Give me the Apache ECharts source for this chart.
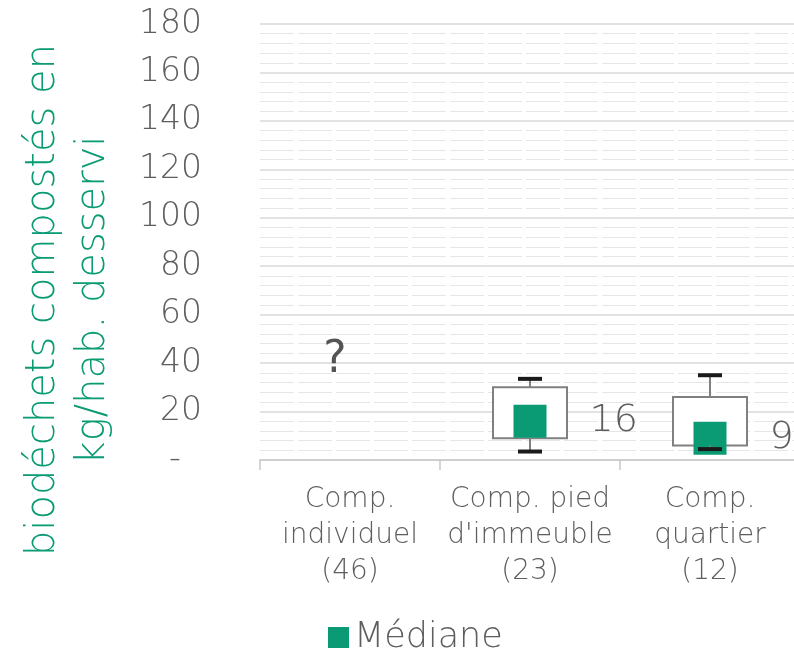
<!DOCTYPE html>
<html>
<head>
<meta charset="utf-8">
<script src="https://cdn.jsdelivr.net/npm/echarts@6/dist/echarts.min.js"></script>
<style>
  html, body { margin: 0; padding: 0; background: #fff; }
  #chart { width: 794px; height: 662px; }
</style>
</head>
<body>
<div id="chart"></div>
<script>
// categories and values
var categories = ['Comp.\nindividuel\n(46)', 'Comp. pied\nd\'immeuble\n(23)', 'Comp.\nquartier\n(12)'];
var whiskerLow = [null, 3.5, 4.5];
var q1 = [null, 9, 6];
var medians = [null, 16, 9];
var q3 = [null, 30, 26];
var whiskerHigh = [null, 33.5, 35];
var unknownMark = [41, null, null];   // "?" shown for Comp. individuel

var FONT = '"DejaVu Sans", sans-serif';
var GREEN = '#0b9b74';
var GREY_TXT = '#5e5e5e';

var myChart = echarts.init(document.getElementById('chart'));

var boxData = [], whiskerData = [], medianData = [], markData = [];
for (var i = 0; i < categories.length; i++) {
    if (q1[i] != null) {
        boxData.push([i, q1[i], q3[i]]);
        whiskerData.push([i, whiskerLow[i], q1[i], q3[i], whiskerHigh[i]]);
        medianData.push([i, medians[i]]);
    }
    if (unknownMark[i] != null) markData.push([i, unknownMark[i]]);
}

function renderBox(params, api) {
    var top = api.coord([api.value(0), api.value(2)]);
    var bot = api.coord([api.value(0), api.value(1)]);
    var w = 74;
    return {
        type: 'rect',
        shape: { x: top[0] - w / 2, y: top[1], width: w, height: bot[1] - top[1] },
        style: { fill: '#fff', stroke: '#808080', lineWidth: 2 }
    };
}

function renderWhisker(params, api) {
    var x = api.value(0);
    var lo = api.coord([x, api.value(1)]);
    var b1 = api.coord([x, api.value(2)]);
    var b3 = api.coord([x, api.value(3)]);
    var hi = api.coord([x, api.value(4)]);
    var cw = 24;
    var lineStyle = { stroke: '#808080', lineWidth: 2 };
    var capStyle = { stroke: '#1a1a1a', lineWidth: 4 };
    return {
        type: 'group',
        children: [
            { type: 'line', shape: { x1: hi[0], y1: hi[1], x2: b3[0], y2: b3[1] }, style: lineStyle },
            { type: 'line', shape: { x1: lo[0], y1: lo[1], x2: b1[0], y2: b1[1] }, style: lineStyle },
            { type: 'line', shape: { x1: hi[0] - cw / 2, y1: hi[1], x2: hi[0] + cw / 2, y2: hi[1] }, style: capStyle },
            { type: 'line', shape: { x1: lo[0] - cw / 2, y1: lo[1], x2: lo[0] + cw / 2, y2: lo[1] }, style: capStyle }
        ]
    };
}

var option = {
    animation: false,
    textStyle: { fontFamily: FONT },
    grid: { left: 260, right: -6, top: 24, bottom: 202, containLabel: false, outerBoundsMode: 'none' },
    legend: {
        bottom: 2,
        left: 323,
        data: ['Médiane'],
        icon: 'rect',
        itemWidth: 21,
        itemHeight: 21,
        itemGap: 6,
        textStyle: { fontSize: 35, color: GREY_TXT, fontFamily: FONT, fontWeight: 300 }
    },
    xAxis: {
        type: 'category',
        data: categories,
        axisLine: { show: true, lineStyle: { color: '#c8c8c8', width: 1.5 } },
        axisTick: { show: true, length: 10, lineStyle: { color: '#c8c8c8', width: 1.5 } },
        axisLabel: {
            interval: 0,
            margin: 22,
            fontSize: 28,
            lineHeight: 36,
            color: GREY_TXT,
            fontWeight: 300,
            fontFamily: FONT
        },
        splitLine: { show: false }
    },
    yAxis: {
        type: 'value',
        min: 0,
        max: 180,
        interval: 20,
        name: 'biodéchets compostés en\nkg/hab. desservi',
        nameLocation: 'middle',
        nameGap: 141,
        nameRotate: 90,
        nameTextStyle: {
            fontSize: 40, color: GREEN, lineHeight: 50, fontFamily: FONT, fontWeight: 300,
            padding: [0, 116, 0, 0]
        },
        axisLine: { show: false },
        axisTick: { show: false },
        axisLabel: {
            margin: 58,
            fontSize: 33,
            color: GREY_TXT,
            fontWeight: 300,
            fontFamily: FONT,
            formatter: function (v) { return v === 0 ? '-  ' : String(v); }
        },
        splitLine: { show: true, lineStyle: { color: '#d9d9d9', width: 1.5 } },
        minorTick: { show: false, splitNumber: 5 },
        minorSplitLine: { show: true, lineStyle: { color: '#e6e6e6', width: 1.2, type: [34, 4] } }
    },
    series: [
        {
            name: 'box',
            type: 'custom',
            renderItem: renderBox,
            data: boxData,
            z: 2
        },
        {
            name: 'Médiane',
            type: 'scatter',
            symbol: 'rect',
            symbolSize: 33,
            itemStyle: { color: GREEN, opacity: 1 },
            data: medianData,
            z: 3,
            label: {
                show: true,
                position: 'right',
                distance: 43,
                fontSize: 38,
                color: GREY_TXT,
                fontWeight: 300,
                fontFamily: FONT,
                formatter: function (p) { return p.value[1]; }
            }
        },
        {
            name: 'whisker',
            type: 'custom',
            renderItem: renderWhisker,
            data: whiskerData,
            z: 4
        },
        {
            name: 'unknown',
            type: 'scatter',
            symbolSize: 0,
            data: markData,
            z: 5,
            label: {
                show: true,
                position: 'inside',
                offset: [-15, 0],
                fontSize: 44,
                color: '#2b2b2b',
                fontFamily: FONT,
                formatter: '?'
            }
        }
    ]
};

myChart.setOption(option);
</script>
</body>
</html>
